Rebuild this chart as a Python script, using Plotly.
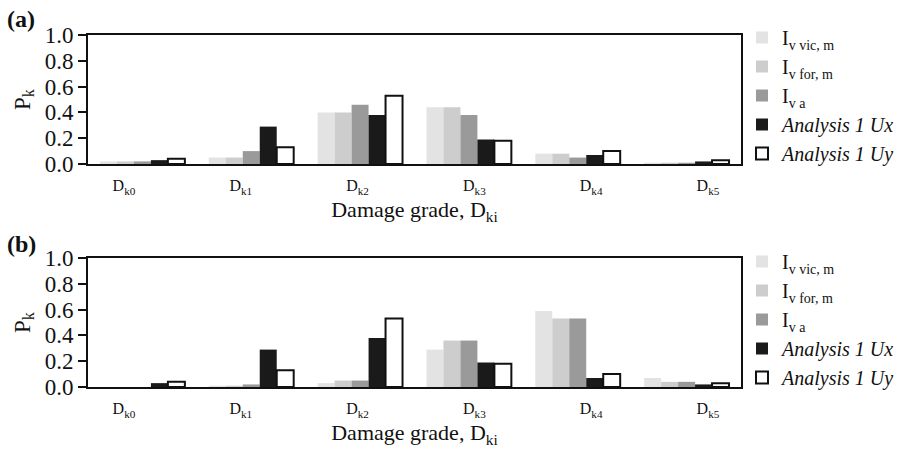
import plotly.graph_objects as go

categories = ["D<sub>k0</sub>", "D<sub>k1</sub>", "D<sub>k2</sub>", "D<sub>k3</sub>", "D<sub>k4</sub>", "D<sub>k5</sub>"]
series_names = ["I<sub>v vic, m</sub>", "I<sub>v for, m</sub>", "I<sub>v a</sub>",
                "<i>Analysis 1 Ux</i>", "<i>Analysis 1 Uy</i>"]

# Panel (a)
a_vic = [0.02, 0.05, 0.40, 0.44, 0.08, 0.01]
a_for = [0.02, 0.05, 0.40, 0.44, 0.08, 0.01]
a_va = [0.02, 0.10, 0.46, 0.38, 0.05, 0.01]
# Panel (b)
b_vic = [0.00, 0.01, 0.03, 0.29, 0.59, 0.07]
b_for = [0.00, 0.01, 0.05, 0.36, 0.53, 0.04]
b_va = [0.00, 0.02, 0.05, 0.36, 0.53, 0.04]
# Analysis 1 (same in both panels)
ux = [0.03, 0.29, 0.38, 0.19, 0.07, 0.02]
uy = [0.04, 0.13, 0.53, 0.18, 0.10, 0.03]

y_ticks = [0.0, 0.2, 0.4, 0.6, 0.8, 1.0]

FONT = "Liberation Serif"
fills = ["#e3e3e3", "#cdcdcd", "#9a9a9a", "#1a1a1a", "#ffffff"]
lines = [0, 0, 0, 0, 2]

fig = go.Figure()
panels = [([a_vic, a_for, a_va, ux, uy], "x", "y", "legend", "x3"),
          ([b_vic, b_for, b_va, ux, uy], "x2", "y2", "legend2", "x4")]
for vals, xa, ya, lg, xl in panels:
    for name, v, fc, lw in zip(series_names, vals, fills, lines):
        fig.add_trace(go.Bar(
            x=categories, y=v, name=name, xaxis=xa, yaxis=ya, legend=lg,
            marker=dict(color=fc, line=dict(color="#111111", width=lw)),
        ))
    # invisible carrier so the label axis is drawn
    fig.add_trace(go.Scatter(
        x=list(range(len(categories))), y=[0] * len(categories),
        xaxis=xl, yaxis=ya, mode="markers", marker=dict(opacity=0, size=1),
        showlegend=False, hoverinfo="skip",
    ))

axis_common = dict(showline=True, linecolor="#111111", linewidth=2, mirror=True,
                   showgrid=False, zeroline=False, automargin=False)
# bar axes: frame only, no tick labels
xbars = dict(axis_common, showticklabels=False, ticks="")
# label axes (overlay): category labels, spaced as in the reference
xlabels = dict(showline=False, showgrid=False, zeroline=False, automargin=False,
               range=[-0.308, 5.283], tickvals=list(range(len(categories))),
               ticktext=categories,
               ticks="outside", ticklen=7, tickcolor="rgba(0,0,0,0)",
               tickfont=dict(family=FONT, size=16, color="#111111"),
               title=dict(text="Damage grade, D<sub>ki</sub>", standoff=6,
                          font=dict(family=FONT, size=22, color="#111111")))
ycommon = dict(axis_common, range=[0, 1], tickvals=y_ticks, tickformat=".1f",
               ticks="outside", ticklen=8, tickwidth=1.5, tickcolor="#111111",
               tickfont=dict(family=FONT, size=23, color="#111111"),
               title=dict(text="P<sub>k</sub>", standoff=8,
                          font=dict(family=FONT, size=23, color="#111111")))

legend_common = dict(font=dict(family=FONT, size=20, color="#111111"),
                     xanchor="left", yanchor="top", bgcolor="rgba(0,0,0,0)",
                     tracegroupgap=0, itemsizing="constant")

plot_w = 918 - 88 - 177
plot_h = 449 - 35 - 62
def px_to_paper(px, py):
    return (px - 88) / plot_w, (449 - 62 - py) / plot_h

ann = []
for txt, (px, py) in [("<b>(a)</b>", (21, 19)), ("<b>(b)</b>", (21, 244))]:
    xp, yp = px_to_paper(px, py)
    ann.append(dict(text=txt, x=xp, y=yp, xref="paper", yref="paper", showarrow=False,
                    xanchor="center", yanchor="middle",
                    font=dict(family=FONT, size=24, color="#111111")))

lx, ly1 = px_to_paper(742, 18)
_, ly2 = px_to_paper(742, 242)

fig.update_layout(
    width=918, height=449,
    margin=dict(l=88, r=177, t=35, b=62),
    paper_bgcolor="white", plot_bgcolor="white",
    barmode="group", bargap=0.22, bargroupgap=0,
    showlegend=True,
    xaxis=dict(xbars, domain=[0, 1], anchor="y"),
    yaxis=dict(ycommon, domain=[0.6335, 1.0], anchor="x"),
    xaxis2=dict(xbars, domain=[0, 1], anchor="y2"),
    yaxis2=dict(ycommon, domain=[0.0, 0.3665], anchor="x2"),
    xaxis3=dict(xlabels, overlaying="x", anchor="y", side="bottom"),
    xaxis4=dict(xlabels, overlaying="x2", anchor="y2", side="bottom"),
    legend=dict(legend_common, x=lx, y=ly1),
    legend2=dict(legend_common, x=lx, y=ly2),
    annotations=ann,
)

fig.write_html("out.html")
